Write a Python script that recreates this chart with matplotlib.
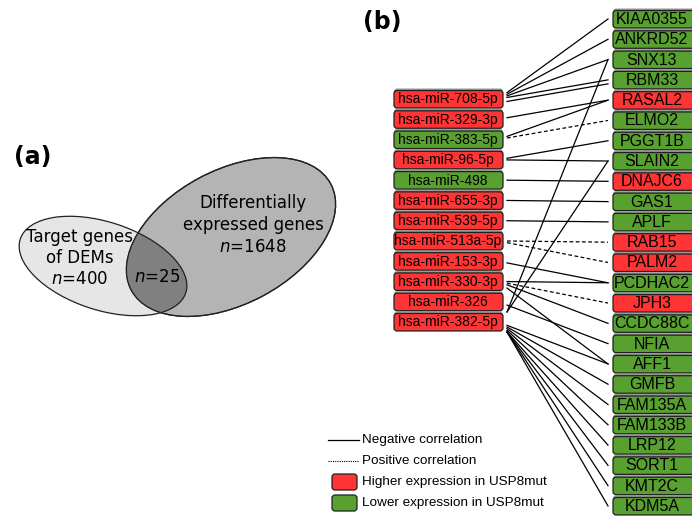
import matplotlib.pyplot as plt
from matplotlib.patches import Ellipse, FancyBboxPatch
from matplotlib.lines import Line2D

# ---- data ----
mirnas = ["hsa-miR-708-5p", "hsa-miR-329-3p", "hsa-miR-383-5p", "hsa-miR-96-5p",
          "hsa-miR-498", "hsa-miR-655-3p", "hsa-miR-539-5p", "hsa-miR-513a-5p",
          "hsa-miR-153-3p", "hsa-miR-330-3p", "hsa-miR-326", "hsa-miR-382-5p"]
mirna_high = [1, 1, 0, 1, 0, 1, 1, 1, 1, 1, 1, 1]

genes = ["KIAA0355", "ANKRD52", "SNX13", "RBM33", "RASAL2", "ELMO2", "PGGT1B",
         "SLAIN2", "DNAJC6", "GAS1", "APLF", "RAB15", "PALM2", "PCDHAC2", "JPH3",
         "CCDC88C", "NFIA", "AFF1", "GMFB", "FAM135A", "FAM133B", "LRP12",
         "SORT1", "KMT2C", "KDM5A"]
gene_high = [0, 0, 0, 0, 1, 0, 0, 0, 1, 0, 0, 1, 1, 0, 1, 0, 0, 0, 0, 0, 0, 0, 0, 0, 0]

# (miRNA, gene, correlation)
edges = [
    ("hsa-miR-708-5p", "KIAA0355", "neg"), ("hsa-miR-708-5p", "ANKRD52", "neg"),
    ("hsa-miR-708-5p", "SNX13", "neg"), ("hsa-miR-708-5p", "RBM33", "neg"),
    ("hsa-miR-708-5p", "RBM33", "neg"),
    ("hsa-miR-329-3p", "RASAL2", "neg"),
    ("hsa-miR-383-5p", "RASAL2", "neg"), ("hsa-miR-383-5p", "ELMO2", "pos"),
    ("hsa-miR-96-5p", "PGGT1B", "neg"), ("hsa-miR-96-5p", "SLAIN2", "neg"),
    ("hsa-miR-498", "DNAJC6", "neg"),
    ("hsa-miR-655-3p", "GAS1", "neg"),
    ("hsa-miR-539-5p", "APLF", "neg"),
    ("hsa-miR-513a-5p", "RAB15", "pos"), ("hsa-miR-513a-5p", "PALM2", "pos"),
    ("hsa-miR-153-3p", "PCDHAC2", "neg"),
    ("hsa-miR-330-3p", "PCDHAC2", "neg"), ("hsa-miR-330-3p", "JPH3", "pos"),
    ("hsa-miR-330-3p", "CCDC88C", "neg"), ("hsa-miR-330-3p", "AFF1", "neg"),
    ("hsa-miR-326", "NFIA", "neg"),
    ("hsa-miR-382-5p", "SNX13", "neg"), ("hsa-miR-382-5p", "SLAIN2", "neg"),
    ("hsa-miR-382-5p", "AFF1", "neg"), ("hsa-miR-382-5p", "GMFB", "neg"),
    ("hsa-miR-382-5p", "FAM135A", "neg"), ("hsa-miR-382-5p", "FAM133B", "neg"),
    ("hsa-miR-382-5p", "LRP12", "neg"), ("hsa-miR-382-5p", "SORT1", "neg"),
    ("hsa-miR-382-5p", "KMT2C", "neg"), ("hsa-miR-382-5p", "KDM5A", "neg"),
]

venn_left = "Target genes\nof DEMs\n$n$=400"
venn_right = "Differentially\nexpressed genes\n$n$=1648"
venn_mid = "$n$=25"

RED = "#ff3434"
GREEN = "#58a02f"
SANS = "Liberation Sans"

fig = plt.figure(figsize=(6.92, 5.18), dpi=100)
ax = fig.add_axes([0, 0, 1, 1])
ax.set_xlim(0, 692)
ax.set_ylim(518, 0)
ax.axis("off")

# ---- (a) venn ----
left = Ellipse((103, 266), 174, 88, angle=18, facecolor="#e6e6e6",
               edgecolor="#222222", lw=0.9, zorder=1)
right = Ellipse((231, 237), 226, 134, angle=-28, facecolor="#b4b4b4",
                edgecolor="#222222", lw=0.9, zorder=2)
ax.add_patch(left)
ax.add_patch(right)
mid = Ellipse((103, 266), 174, 88, angle=18, facecolor="#808080",
              edgecolor="#222222", lw=0.9, zorder=3)
ax.add_patch(mid)
mid.set_clip_path(right)
ax.add_patch(Ellipse((231, 237), 226, 134, angle=-28, facecolor="none",
                     edgecolor="#222222", lw=0.9, zorder=4))

ax.text(14, 157, "(a)", fontsize=17, fontweight="bold", va="center", ha="left")
ax.text(80, 258, venn_left, fontsize=12, ha="center", va="center", linespacing=1.25)
ax.text(253, 225, venn_right, fontsize=12, ha="center", va="center", linespacing=1.25)
ax.text(157, 277, venn_mid, fontsize=12, ha="center", va="center")

# ---- (b) network ----
ax.text(363, 22, "(b)", fontsize=17, fontweight="bold", va="center", ha="left")

mir_y = {m: 99 + i * 20.27 for i, m in enumerate(mirnas)}
gene_y = {g: 19 + i * 20.29 for i, g in enumerate(genes)}


def node(x, y, w, label, high, size, tx):
    ax.add_patch(FancyBboxPatch((x, y - 10.5), w, 18, boxstyle="round,pad=0,rounding_size=3",
                                facecolor="#9a9a9a", edgecolor="none", zorder=4))
    ax.add_patch(FancyBboxPatch((x, y - 8.5), w, 17.5, boxstyle="round,pad=0,rounding_size=3",
                                facecolor=RED if high else GREEN, edgecolor="#202020",
                                lw=0.9, zorder=5))
    ax.text(tx, y + 0.5, label, fontsize=size, family=SANS, ha="center",
            va="center", zorder=6)


for m, h in zip(mirnas, mirna_high):
    node(394, mir_y[m], 109, m, h, 10, 448)
for g, h in zip(genes, gene_high):
    node(613, gene_y[g], 86, g, h, 11.5, 652)

seen = {}
for m, g, kind in edges:
    y0, y1 = mir_y[m], gene_y[g]
    dup = seen.get((m, g), 0)
    seen[(m, g)] = dup + 1
    off = max(-10, min(10, 0.08 * (y1 - y0))) + 4 * dup
    ax.plot([507, 608], [y0 + off, y1 + 4 * dup], color="black", lw=0.9,
            ls="-" if kind == "neg" else (0, (3, 2)), zorder=3)

# ---- legend ----
ax.add_line(Line2D([328, 359], [440, 440], color="black", lw=0.9))
ax.add_line(Line2D([328, 359], [461, 461], color="black", lw=0.8, ls=(0, (1, 1))))
ax.text(362, 440, "Negative correlation", fontsize=9.7, family=SANS, va="center")
ax.text(362, 461, "Positive correlation", fontsize=9.7, family=SANS, va="center")
for yy, c, lab in [(482, RED, "Higher expression in USP8mut"),
                   (503, GREEN, "Lower expression in USP8mut")]:
    ax.add_patch(FancyBboxPatch((332, yy - 8), 25, 16, boxstyle="round,pad=0,rounding_size=3",
                                facecolor=c, edgecolor="#202020", lw=0.9))
    ax.text(362, yy, lab, fontsize=9.7, family=SANS, va="center")

fig.savefig("out.png", dpi=100)
